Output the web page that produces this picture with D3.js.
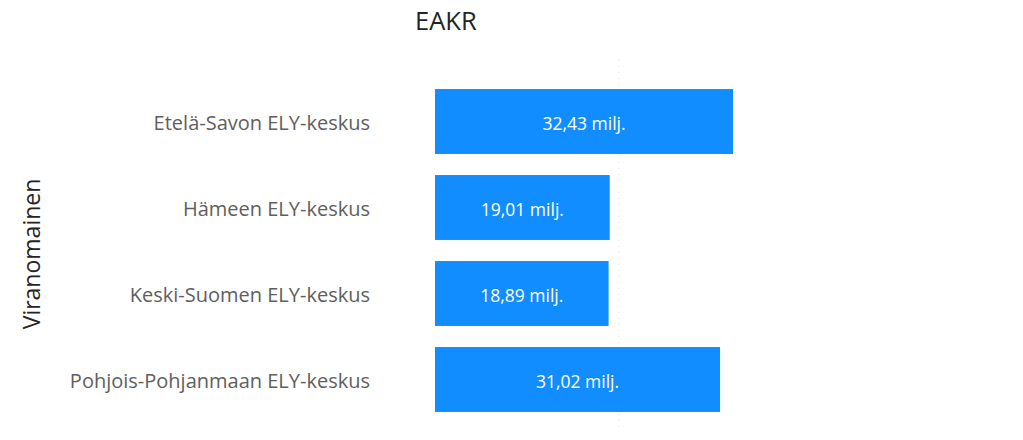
<!DOCTYPE html>
<html><head><meta charset="utf-8">
<script src="https://cdn.jsdelivr.net/npm/d3@7"></script>
<style>body{margin:0;background:#fff;}svg{display:block;}</style>
</head><body>
<svg id="c" width="1023" height="440"></svg>
<script>
const categories = ["Etelä-Savon ELY-keskus","Hämeen ELY-keskus","Keski-Suomen ELY-keskus","Pohjois-Pohjanmaan ELY-keskus"];
const values = [32.43, 19.01, 18.89, 31.02];
const valueLabels = ["32,43 milj.","19,01 milj.","18,89 milj.","31,02 milj."];
const gridTicks = [20];
const title = "EAKR";
const yTitle = "Viranomainen";

const svg = d3.select("#c");
const font = "'Open Sans', 'Noto Sans', sans-serif";

const x = d3.scaleLinear().domain([0, 40]).range([435, 802.6]);
const y = d3.scaleBand().domain(categories).range([78.5, 422.5]).paddingInner(0.245).paddingOuter(0.1225);

// faint gridlines
svg.append("g").selectAll("line").data(gridTicks).join("line")
  .attr("x1", d => x(d)).attr("x2", d => x(d))
  .attr("y1", 60).attr("y2", 430)
  .attr("stroke", "#e6e2de").attr("stroke-width", 1).attr("stroke-dasharray", "1,5");

// title
svg.append("text").attr("x", 415).attr("y", 30).text(title)
  .attr("font-family", font).attr("font-size", 25.5).attr("fill", "#252423");

// y axis title
svg.append("text").attr("transform", "translate(40,254) rotate(-90)")
  .attr("text-anchor", "middle").text(yTitle)
  .attr("font-family", font).attr("font-size", 23).attr("fill", "#252423");

// y axis labels
const yAxis = d3.axisLeft(y).tickSize(0).tickPadding(0);
const ga = svg.append("g").attr("transform", "translate(370,2)").call(yAxis);
ga.select(".domain").remove();
ga.selectAll("text").attr("font-family", font).attr("font-size", 20).attr("fill", "#605e5c");

// bars
svg.append("g").selectAll("rect").data(values).join("rect")
  .attr("x", x(0)).attr("y", (d, i) => y(categories[i]))
  .attr("width", d => x(d) - x(0)).attr("height", y.bandwidth())
  .attr("fill", "#118dff");

// value labels
svg.append("g").selectAll("text").data(values).join("text")
  .attr("x", d => (x(0) + x(d)) / 2)
  .attr("y", (d, i) => y(categories[i]) + y.bandwidth() / 2 + 2)
  .attr("dy", "0.35em").attr("text-anchor", "middle")
  .text((d, i) => valueLabels[i])
  .attr("font-family", font).attr("font-size", 17.5).attr("fill", "#ffffff");
</script>
</body></html>
